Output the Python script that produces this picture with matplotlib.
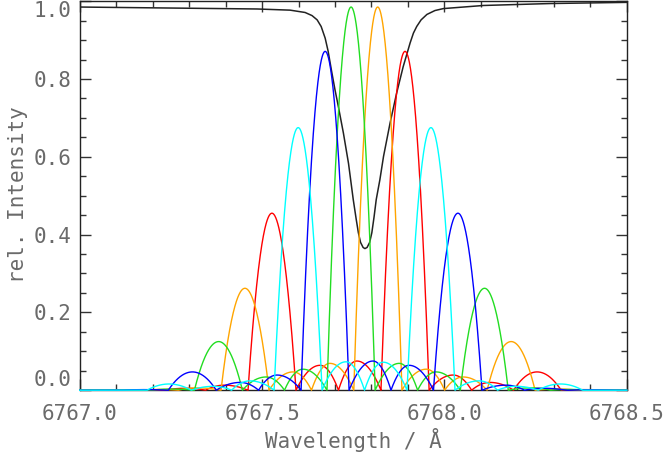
import numpy as np
import matplotlib
matplotlib.use("Agg")
import matplotlib.pyplot as plt
from matplotlib.ticker import MultipleLocator

# --- data -----------------------------------------------------------------
WL0 = 6767.0

# black line profile: wavelength offset from 6767 A, rel. intensity
line_dwl = [0.000, 0.193, 0.486, 0.577, 0.618, 0.637, 0.651, 0.662, 0.673,
            0.681, 0.691, 0.700, 0.709, 0.723, 0.737, 0.750, 0.758, 0.764,
            0.770, 0.777, 0.782, 0.788, 0.795, 0.801, 0.807, 0.813, 0.823,
            0.833, 0.851, 0.869, 0.887, 0.906, 0.915, 0.924, 0.936, 0.952,
            0.974, 0.997, 1.107, 1.290, 1.500]
line_int = [0.985, 0.983, 0.980, 0.977, 0.971, 0.963, 0.952, 0.935, 0.905,
            0.872, 0.818, 0.772, 0.730, 0.661, 0.583, 0.490, 0.440, 0.405,
            0.380, 0.367, 0.364, 0.367, 0.380, 0.405, 0.445, 0.490, 0.541,
            0.601, 0.687, 0.764, 0.832, 0.893, 0.918, 0.935, 0.952, 0.966,
            0.976, 0.981, 0.989, 0.994, 0.997]

# filter transmission lobes: peak position (offset from 6767 A) and height
cyan_dwl = [0.245, 0.366, 0.467, 0.599, 0.730, 0.832, 0.963, 1.095, 1.196, 1.318]
cyan_peak = [0.016, 0.010, 0.024, 0.675, 0.073, 0.072, 0.675, 0.024, 0.010, 0.016]

blue_dwl = [0.177, 0.309, 0.440, 0.541, 0.673, 0.804, 0.903, 1.037, 1.169, 1.270, 1.400]
blue_peak = [0.0015, 0.047, 0.020, 0.039, 0.871, 0.075, 0.064, 0.455, 0.013, 0.005, 0.001]

green_dwl = [0.146, 0.248, 0.381, 0.511, 0.612, 0.744, 0.876, 0.977, 1.110, 1.240, 1.342]
green_peak = [0.001, 0.003, 0.125, 0.034, 0.054, 0.985, 0.069, 0.047, 0.262, 0.006, 0.002]

orange_dwl = [0.220, 0.322, 0.453, 0.585, 0.686, 0.817, 0.950, 1.051, 1.183, 1.314, 1.416]
orange_peak = [0.002, 0.006, 0.262, 0.047, 0.069, 0.985, 0.054, 0.034, 0.125, 0.003, 0.001]

red_dwl = [0.160, 0.294, 0.396, 0.527, 0.659, 0.760, 0.892, 1.024, 1.125, 1.254, 1.386]
red_peak = [0.001, 0.005, 0.013, 0.455, 0.064, 0.075, 0.871, 0.039, 0.020, 0.047, 0.0015]

filters = [
    (red_dwl, red_peak, '#ff0000'),
    (orange_dwl, orange_peak, '#ffa500'),
    (green_dwl, green_peak, '#22dd22'),
    (blue_dwl, blue_peak, '#0000ff'),
    (cyan_dwl, cyan_peak, '#00ffff'),
]

TEXT_GRAY = '#6a6a6a'
FONT = 'DejaVu Sans Mono'


def lobes(wl, centers, peaks):
    """ Arches between zero points, one per transmission lobe """
    c = np.asarray(centers) + WL0
    h = np.asarray(peaks)
    mids = (c[1:] + c[:-1]) / 2
    left = np.r_[2 * c[0] - mids[0], mids]
    right = np.r_[mids, 2 * c[-1] - mids[-1]]
    y = np.zeros_like(wl)
    for a, m, b, hh in zip(left, c, right, h):
        up = (wl >= a) & (wl <= m)
        y[up] = hh * (1 - ((m - wl[up]) / (m - a)) ** 2)
        dn = (wl > m) & (wl <= b)
        y[dn] = hh * (1 - ((wl[dn] - m) / (b - m)) ** 2)
    return y


fig = plt.figure(figsize=(6.65, 4.57), dpi=100)
ax = fig.add_axes([79.7 / 665, 1 - 390.2 / 457, 547.1 / 665, 389.0 / 457])

ax.plot(np.asarray(line_dwl) + WL0, line_int, color='#222222', lw=1.1, zorder=2)

grid = np.linspace(WL0, WL0 + 1.5, 3001)
for dwl, peak, color in filters:
    ax.plot(grid, lobes(grid, dwl, peak), color=color, lw=1.0, zorder=3, clip_on=False)

ax.set_xlim(WL0, WL0 + 1.5)
ax.set_ylim(0, 1.0)
ax.set_yticks([0.0, 0.2, 0.4, 0.6, 0.8, 1.0])
ax.xaxis.set_major_locator(MultipleLocator(0.5))
ax.xaxis.set_minor_locator(MultipleLocator(0.1))
ax.yaxis.set_minor_locator(MultipleLocator(0.05))
ax.xaxis.set_major_formatter(lambda v, _: f'{v:.1f}')
ax.yaxis.set_major_formatter(lambda v, _: f'{v:.1f}')

for spine in ax.spines.values():
    spine.set_color('#222222')
    spine.set_linewidth(1.0)
ax.tick_params(which='both', direction='in', top=True, right=True,
               color='#333333', labelcolor=TEXT_GRAY, labelsize=15,
               labelfontfamily=FONT)
ax.tick_params(which='major', length=8, width=1.0)
ax.tick_params(which='minor', length=4, width=1.0)
ax.tick_params(axis='x', pad=10)
ax.tick_params(axis='y', pad=6)

# keep the end labels inside the frame, as in the original
yticks = ax.yaxis.get_major_ticks()
yticks[0].label1.set_verticalalignment('bottom')
yticks[-1].label1.set_verticalalignment('top')

fig.text(18 / 665, 1 - 195 / 457, 'rel. Intensity', rotation=90, ha='center',
         va='center', color=TEXT_GRAY, fontsize=15, family=FONT)
fig.text(353 / 665, 1 - 440 / 457, 'Wavelength / Å', ha='center', va='center',
         color=TEXT_GRAY, fontsize=15, family=FONT)

fig.savefig('out.png', dpi=100, facecolor='white')
